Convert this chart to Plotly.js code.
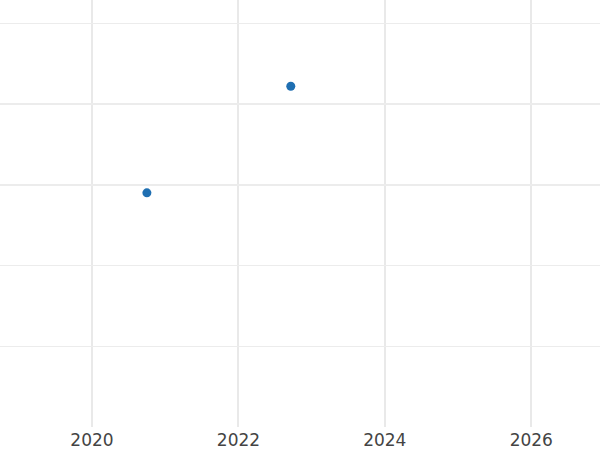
<!DOCTYPE html>
<html>
<head>
<meta charset="utf-8">
<script src="https://cdn.plot.ly/plotly-3.0.1.min.js"></script>
<style>html,body{margin:0;padding:0;background:#fff;}#chart{width:600px;height:450px;}</style>
</head>
<body>
<div id="chart"></div>
<script>
const dates = ["2020-10-01", "2022-09-19"];
const values = [2.90, 4.22];
const xTickVals = ["2020-01-01", "2022-01-01", "2024-01-01", "2026-01-01"];
const xTickText = ["2020", "2022", "2024", "2026"];

const trace = {
  type: "scatter",
  mode: "markers",
  x: dates,
  y: values,
  marker: {color: "#1f6fb2", size: 9}
};

const layout = {
  width: 600,
  height: 450,
  margin: {l: 0, r: 0, t: 0, b: 23},
  paper_bgcolor: "#ffffff",
  plot_bgcolor: "#ffffff",
  showlegend: false,
  font: {family: "DejaVu Sans, sans-serif", color: "#444"},
  xaxis: {
    type: "date",
    range: ["2018-09-29", "2026-12-10"],
    tickvals: xTickVals,
    ticktext: xTickText,
    tickfont: {family: "DejaVu Sans, sans-serif", size: 17, color: "#444"},
    ticklabelstandoff: 1,
    showgrid: true,
    gridcolor: "#e9e9e9",
    gridwidth: 2,
    zeroline: false,
    showline: false,
    ticks: "",
    automargin: false
  },
  yaxis: {
    range: [0, 5.288],
    dtick: 1,
    showticklabels: false,
    showgrid: true,
    gridcolor: "#ececec",
    gridwidth: 1.5,
    zeroline: false,
    showline: false,
    ticks: "",
    automargin: false
  }
};

Plotly.newPlot("chart", [trace], layout, {displayModeBar: false, staticPlot: true});
</script>
</body>
</html>
